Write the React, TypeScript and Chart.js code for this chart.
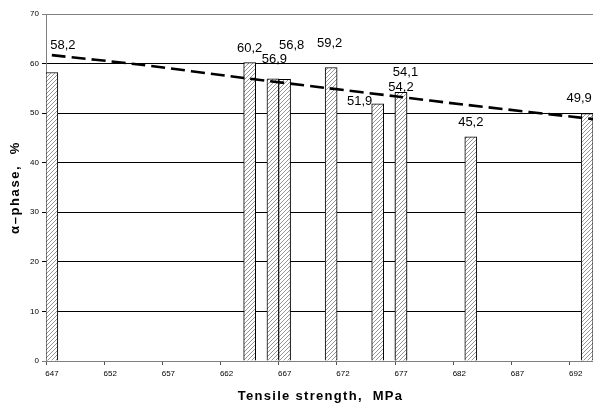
import React, { useEffect, useRef } from "react";
import { Chart, registerables } from "chart.js";

Chart.register(...registerables);

// Data
const TENSILE = [647, 664, 666, 667, 671, 675, 677, 677, 683, 693];
const ALPHA = [58.2, 60.2, 56.9, 56.8, 59.2, 51.9, 54.1, 54.2, 45.2, 49.9];
const TREND_X = [647.5, 655, 664, 671, 677, 683, 694];
const TREND_Y = [61.7, 59.8, 57.1, 55.1, 53.4, 51.7, 48.8];
const X_TICKS = [647, 652, 657, 662, 667, 672, 677, 682, 687, 692];
const Y_MIN = 0;
const Y_MAX = 70;
const X_MIN = 647;
const X_MAX = 694;
const X_TITLE = "Tensile strength,  MPa";
const Y_TITLE = "α–phase,  %";

// label placement tweaks (pixels) to mimic the reference's data labels
const LABEL_OFFSETS: [number, number][] = [
  [11, -27.5],
  [0, -14.6],
  [1.5, -20],
  [7, -34],
  [-1.5, -24.5],
  [-18, -2],
  [4.5, -20],
  [0, -5],
  [0, -15],
  [-8, -15.6],
];

const FONT = "'Liberation Sans', Arial, sans-serif";

function makeHatch(): CanvasPattern | string {
  const c = document.createElement("canvas");
  c.width = 4;
  c.height = 4;
  const g = c.getContext("2d");
  if (!g) return "#fff";
  g.fillStyle = "#fff";
  g.fillRect(0, 0, 4, 4);
  g.strokeStyle = "#8a8a8a";
  g.lineWidth = 0.9;
  g.beginPath();
  g.moveTo(0, 4);
  g.lineTo(4, 0);
  g.moveTo(-1, 1);
  g.lineTo(1, -1);
  g.moveTo(3, 5);
  g.lineTo(5, 3);
  g.stroke();
  const p = g.createPattern(c, "repeat");
  return p || "#fff";
}

const labelPlugin = {
  id: "barLabels",
  afterDatasetsDraw(chart: any) {
    const meta = chart.getDatasetMeta(1);
    const ctx = chart.ctx;
    ctx.save();
    ctx.font = `13px ${FONT}`;
    ctx.fillStyle = "#000";
    ctx.textAlign = "center";
    ctx.textBaseline = "middle";
    meta.data.forEach((el: any, i: number) => {
      const v = ALPHA[i];
      const [dx, dy] = LABEL_OFFSETS[i] || [0, -15];
      ctx.fillText(v.toFixed(1).replace(".", ","), el.x + dx, el.y + dy);
    });
    ctx.restore();
  },
};

const titlePlugin = {
  id: "axisTitles",
  afterDraw(chart: any) {
    const ctx = chart.ctx;
    const area = chart.chartArea;
    ctx.save();
    ctx.font = `bold 13px ${FONT}`;
    ctx.fillStyle = "#000";
    ctx.textAlign = "center";
    ctx.textBaseline = "middle";
    (ctx as any).letterSpacing = "1.3px";
    ctx.fillText(X_TITLE, (area.left + area.right) / 2 + 1, 396.5);
    (ctx as any).letterSpacing = "1.6px";
    ctx.translate(15, (area.top + area.bottom) / 2);
    ctx.rotate(-Math.PI / 2);
    ctx.fillText(Y_TITLE, 0, 0);
    ctx.restore();
  },
};

export default function App() {
  const ref = useRef<HTMLCanvasElement | null>(null);
  useEffect(() => {
    if (!ref.current) return;
    const hatch = makeHatch();
    const chart = new Chart(ref.current, {
      type: "bar",
      data: {
        datasets: [
          {
            type: "line",
            label: "trend",
            data: TREND_X.map((x, i) => ({ x, y: TREND_Y[i] })),
            borderColor: "#000",
            borderWidth: 2.6,
            borderDash: [14, 6],
            pointRadius: 0,
            fill: false,
            tension: 0.3,
            order: 0,
          } as any,
          {
            type: "bar",
            label: "alpha",
            data: TENSILE.map((x, i) => ({ x: x + 0.5, y: ALPHA[i] })),
            backgroundColor: hatch as any,
            borderColor: "#000",
            borderWidth: 1,
            barThickness: 12,
            order: 1,
          } as any,
        ],
      },
      options: {
        responsive: false,
        animation: false,
        layout: { padding: { top: 14, right: 0, left: 0, bottom: 0 } },
        plugins: {
          legend: { display: false },
          tooltip: { enabled: false },
          title: { display: false },
        },
        scales: {
          x: {
            type: "linear",
            min: X_MIN,
            max: X_MAX,
            offset: false,
            afterBuildTicks: (scale: any) => {
              scale.ticks = X_TICKS.map((v) => ({ value: v }));
            },
            afterFit: (scale: any) => {
              scale.height = 44;
            },
            grid: {
              offset: false,
              drawOnChartArea: false,
              drawTicks: true,
              tickLength: 4,
              color: "#555",
            },
            border: { display: true, color: "#808080", width: 1 },
            ticks: {
              autoSkip: false,
              maxRotation: 0,
              labelOffset: 6,
              padding: 4,
              color: "#000",
              font: { family: FONT, size: 8 },
              callback: (v: any) => String(v),
            },
            title: { display: false },
          },
          y: {
            type: "linear",
            min: Y_MIN,
            max: Y_MAX,
            afterFit: (scale: any) => {
              scale.width = 46;
            },
            grid: {
              drawTicks: true,
              tickLength: 4,
              color: (c: any) =>
                c.tick && (c.tick.value === 70 || c.tick.value === 0) ? "#808080" : "#000",
            },
            border: { display: true, color: "#808080", width: 1 },
            ticks: {
              stepSize: 10,
              padding: 3,
              color: "#000",
              font: { family: FONT, size: 8 },
            },
            title: { display: false },
          },
        },
      } as any,
      plugins: [labelPlugin, titlePlugin],
    });
    return () => chart.destroy();
  }, []);
  return (
    <div style={{ position: "absolute", left: 0, top: 0, width: 593, height: 405, background: "#fff" }}>
      <canvas ref={ref} width={593} height={405} style={{ display: "block" }} />
    </div>
  );
}
